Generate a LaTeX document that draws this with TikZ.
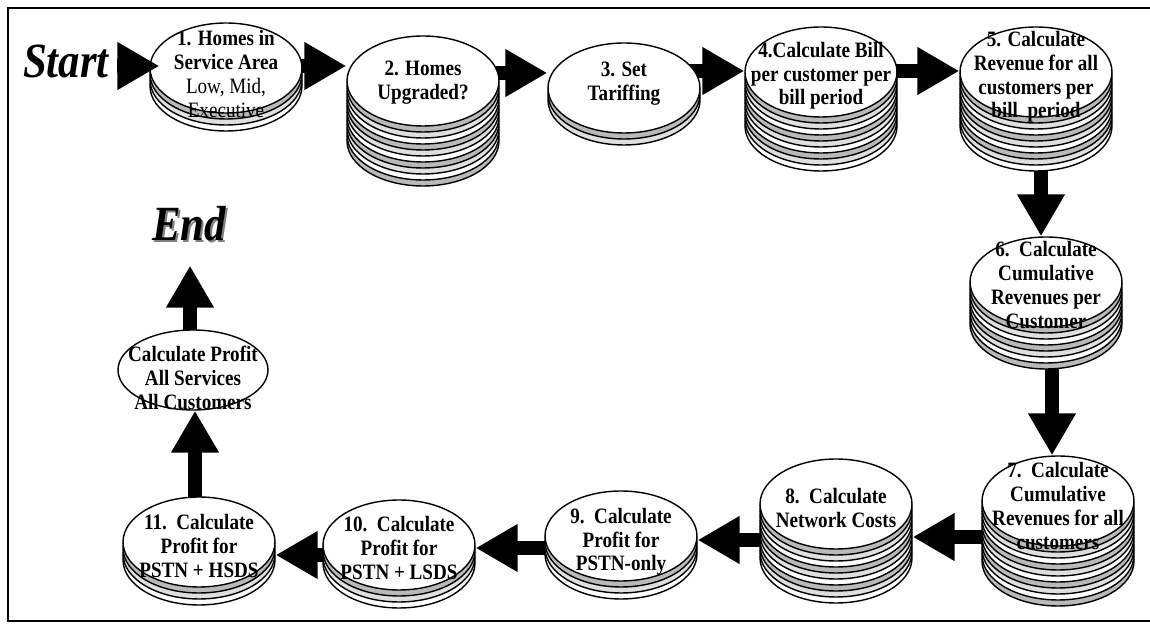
\documentclass[tikz,border=0pt]{standalone}
\usepackage{fontspec}
\setmainfont{Liberation Serif}[FakeStretch=0.87]
\usetikzlibrary{shapes.geometric,arrows.meta,backgrounds}
\def\rx{1.52cm}
\def\ry{0.9cm}

\tikzset{
  coin/.style={ellipse, draw, line width=0.8pt, fill=white, minimum width=2*\rx, minimum height=2*\ry, inner sep=0pt},
  band/.style={draw, line width=0.8pt},
  coinlabel/.style={align=center, inner sep=0pt, font=\fontsize{12.5}{13.5}\selectfont\bfseries},
  fat/.style={line width=0.28cm, -{Triangle[length=0.84cm,width=0.9cm]}},
  bigword/.style={inner sep=0pt, font=\fontsize{28}{30}\selectfont\bfseries\itshape}
}

% stack of bands under a coin, then the coin and its label
% #1 name, #2 x, #3 y, #4 bands, #5 label shift, #6 label
\newcommand{\coin}[6]{%
  \foreach \k in {#4,...,1}{%
    \pgfmathtruncatemacro{\m}{mod(\k,3)}%
    \ifcase\m \def\bandcol{white}\or \def\bandcol{gray!55}\or \def\bandcol{gray!25}\fi
    \draw[band, fill=\bandcol] (#2,{#3+6*\k}) ellipse [x radius=\rx, y radius=\ry];
  }
  \node[coin] (#1) at (#2,#3) {};
  \node[coinlabel] (#1t) at (#2,{#3+#5}) {#6};
}

\begin{document}
\begin{tikzpicture}[x=0.02cm, y=-0.02cm]
	\useasboundingbox (0,0) rectangle (1150,624);
	% frame, its right side runs off the page
	\draw[line width=1.6pt] (1200,8) -- (8,8) -- (8,621) -- (1200,621);

	% top row
	\coin{d1}{226}{68}{3}{6}{1. Homes in\\Service Area\\\mdseries Low, Mid,\\\mdseries Executive}
	\coin{d2}{423}{81}{10}{2}{2. Homes\\Upgraded?}
	\coin{d3}{624}{88}{2}{-4}{3. Set\\Tariffing}
	\coin{d4}{821}{72}{9}{4}{4.Calculate Bill\\per customer per\\bill period}
	\coin{d5}{1036}{72}{9}{5}{5. Calculate\\Revenue for all\\customers per\\bill\ \ period}
	% right column
	\coin{d6}{1046}{282}{7}{3}{6.\ \ Calculate\\Cumulative\\Revenues per\\Customer}
	\coin{d7}{1058}{501}{10}{5}{7.\ \ Calculate\\Cumulative\\Revenues for all\\customers}
	% bottom row
	\coin{d8}{836}{504}{9}{4}{8.\ \ Calculate\\Network Costs}
	\coin{d9}{621}{536}{3}{6}{9.\ \ Calculate\\Profit for\\PSTN-only}
	\coin{d10}{399}{545}{3}{3}{10.\ \ Calculate\\Profit for\\PSTN + LSDS}
	\coin{d11}{199}{542}{3}{4}{11.\ \ Calculate\\Profit for\\PSTN + HSDS}

	% last step, one coin only
	\node[coin, minimum width=3cm, minimum height=1.6cm] (total) at (193,370) {};
	\node[coinlabel] (totalt) at (193,378) {Calculate Profit\\All Services\\All Customers};

	\node[bigword] (startlabel) at (66,61) {Start};
	\node[bigword, text=gray] (endshade) at (191,226) {End};
	\node[bigword] (endlabel) at (189,224) {End};

	% block arrows, behind the coins
	\begin{scope}[on background layer]
	\draw[fat] (d1 |- 0,66) -- (d2.west |- 0,66);
	\draw[fat] (d2 |- 0,73) -- (d3.west |- 0,73);
	\draw[fat] (d3 |- 0,71) -- (d4.west |- 0,71);
	\draw[fat] (d4 |- 0,71) -- (d5.west |- 0,71);
	\draw[fat] (d5 -| 1041,0) -- (d6.north -| 1041,0);
	\draw[fat] (d6 -| 1052,0) -- (d7.north -| 1052,0);
	\draw[fat] (d7 |- 0,537) -- (d8.east |- 0,537);
	\draw[fat] (d8 |- 0,540) -- (d9.east |- 0,540);
	\draw[fat] (d9 |- 0,548) -- (d10.east |- 0,548);
	\draw[fat] (d10 |- 0,555) -- (d11.east |- 0,555);
	\draw[fat] (d11 -| 195,0) -- (total.south -| 195,0);
	\draw[fat, shorten >=0.48cm] (total -| 190,0) -- (endlabel.south -| 190,0);
	\end{scope}
	\draw[fat, shorten <=0.16cm, shorten >=-0.2cm] (startlabel.east |- 0,66) -- (d1.west |- 0,66);
\end{tikzpicture}
\end{document}
